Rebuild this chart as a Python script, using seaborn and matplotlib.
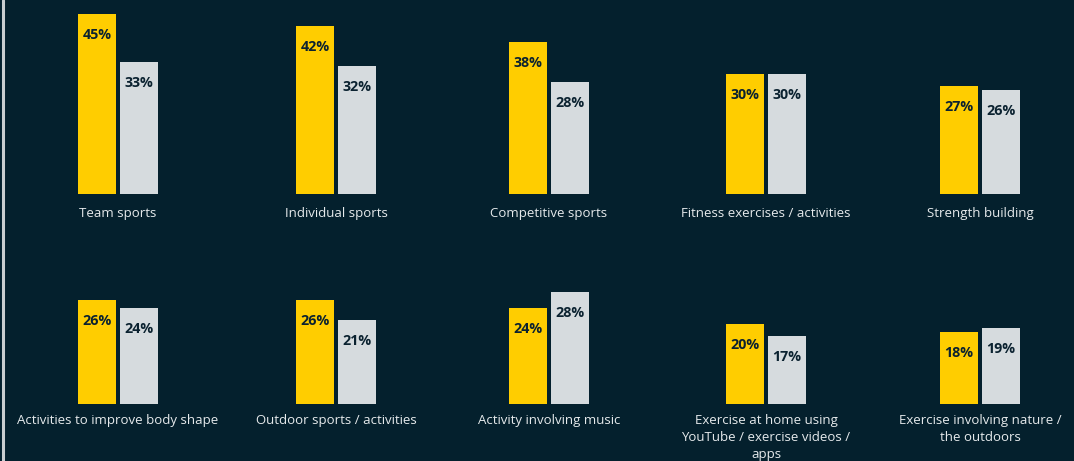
import matplotlib
matplotlib.use("Agg")
import matplotlib.pyplot as plt
import seaborn as sns
import pandas as pd
from matplotlib.lines import Line2D

categories = [
    "Team sports",
    "Individual sports",
    "Competitive sports",
    "Fitness exercises / activities",
    "Strength building",
    "Activities to improve body shape",
    "Outdoor sports / activities",
    "Activity involving music",
    "Exercise at home using\nYouTube / exercise videos /\napps",
    "Exercise involving nature /\nthe outdoors",
]
series_names = ["Series 1", "Series 2"]
series_1 = [45, 42, 38, 30, 27, 26, 26, 24, 20, 18]
series_2 = [33, 32, 28, 30, 26, 24, 21, 28, 17, 19]

BG = "#04202d"
YELLOW = "#ffcd00"
GREY = "#d6dbde"
DARK = "#0b2230"
LIGHT = "#e6eaec"

sns.set_theme(style="white")
plt.rcParams["font.family"] = ["Open Sans", "DejaVu Sans"]

W, H = 1074, 461
fig = plt.figure(figsize=(W / 100, H / 100), dpi=100, facecolor=BG)

panel_w = 200
px_per_pct = 4.0
ymax = 46
baselines = [194, 404]
label_pads = [9.5, 7]
col_centers = [118, 336, 549, 766, 980]

for i, cat in enumerate(categories):
    row, col = divmod(i, 5)
    cx = col_centers[col]
    base = baselines[row]
    h = ymax * px_per_pct
    ax = fig.add_axes([(cx - panel_w / 2) / W, (H - base) / H, panel_w / W, h / H])
    ax.set_facecolor("none")
    df = pd.DataFrame({
        "category": [cat, cat],
        "series": series_names,
        "value": [series_1[i], series_2[i]],
    })
    sns.barplot(data=df, x="category", y="value", hue="series",
                palette=[YELLOW, GREY], width=0.42, gap=0.095,
                legend=False, ax=ax, saturation=1, linewidth=0)
    ax.set_ylim(0, ymax)
    ax.set_xlim(-0.5, 0.5)
    for cont in ax.containers:
        ax.bar_label(cont, labels=[f"{int(round(b.get_height()))}%" for b in cont],
                     padding=-20, color=DARK, fontsize=10.3, fontweight="bold")
    ax.set_xlabel("")
    ax.set_ylabel("")
    ax.set_yticks([])
    ax.set_xticks([0])
    ax.set_xticklabels([cat], color=LIGHT, fontsize=9.5, linespacing=1.4, va="top")
    ax.tick_params(axis="x", length=0, pad=label_pads[row])
    for s in ax.spines.values():
        s.set_visible(False)

fig.add_artist(Line2D([3 / W, 3 / W], [0, 1], color="#c9ced1", linewidth=2.2))

fig.savefig("out.png", dpi=100, facecolor=BG)
